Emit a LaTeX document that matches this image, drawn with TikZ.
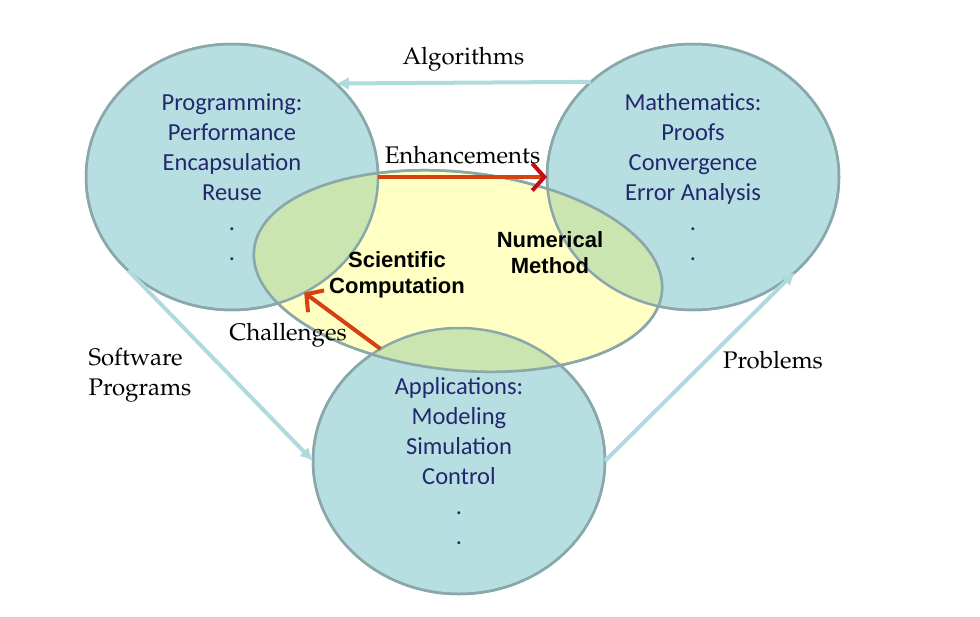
\documentclass[tikz,border=0pt]{standalone}
\usepackage[T1,TU]{fontenc}
\usepackage{fontspec}
\newfontfamily\calibri{Carlito}
\newfontfamily\arial{Liberation Sans}
\newcommand{\pal}{\fontencoding{T1}\fontfamily{ppl}\selectfont}
\usetikzlibrary{shapes.geometric,arrows.meta}
\definecolor{bubblefill}{RGB}{183,223,226}
\definecolor{rimcol}{RGB}{138,168,170}
\definecolor{corefill}{RGB}{255,255,196}
\definecolor{overlapfill}{RGB}{202,229,176}
\definecolor{bodytext}{RGB}{35,40,110}
\definecolor{linkblue}{RGB}{175,218,222}
\definecolor{redlink}{RGB}{212,66,16}
\definecolor{redtip}{RGB}{200,10,20}
\begin{document}
\begin{tikzpicture}[x=1pt,y=-1pt,
    bubble/.style={ellipse, draw=rimcol, line width=2.5pt, fill=bubblefill,
      minimum width=292pt, minimum height=266pt, inner sep=0pt, outer sep=0pt,
      align=center, text=bodytext, font=\calibri\fontsize{24.5}{30}\selectfont},
    rim/.style={draw=rimcol, line width=2.5pt},
    bluelink/.style={draw=linkblue, line width=4pt, -{Latex[length=13pt,width=13pt]}},
    redarrow/.style={draw=redlink, line width=4pt, -{Straight Barb[length=12pt,width=27pt]}},
    linklabel/.style={font=\pal\fontsize{24}{30}\selectfont},
    corelabel/.style={align=center, font=\arial\bfseries\fontsize{22}{26}\selectfont}]
  \useasboundingbox (0,0) rectangle (980,616);
  \node[bubble] (prog) at (232,177) {Programming:\\Performance\\Encapsulation\\Reuse\\.\\.};
  \node[bubble] (math) at (693,177) {Mathematics:\\Proofs\\Convergence\\Error Analysis\\.\\.};
  \node[bubble] (appl) at (459,461) {Applications:\\Modeling\\Simulation\\Control\\.\\.};
  \filldraw[rim, fill=corefill, rotate around={-6:(458,271)}] (458,271) ellipse [x radius=205pt, y radius=99pt];
  \begin{scope}
    \clip[rotate around={-6:(458,271)}] (458,271) ellipse [x radius=205pt, y radius=99pt];
    \foreach \c in {prog,math,appl}
      \fill[overlapfill] (\c.center) ellipse [x radius=146pt, y radius=133pt];
  \end{scope}
  \foreach \c in {prog,math,appl}
    \draw[rim] (\c.center) ellipse [x radius=146pt, y radius=133pt];
  \draw[rim, rotate around={-6:(458,271)}] (458,271) ellipse [x radius=205pt, y radius=99pt];
  \node[corelabel] (sci) at (397,275) {Scientific\\Computation};
  \node[corelabel] (num) at (550,253) {Numerical\\Method};
  \draw[bluelink] (math.137) -- node[midway, above=6pt, linklabel, text=black] (alg) {Algorithms} (prog.42);
  \draw[bluelink] (prog.222) -- (appl.west);
  \draw[bluelink] (appl.east) -- (math.317);
  \draw[redarrow, -{Straight Barb[length=12pt,width=27pt,color=redtip]}] (prog.east) -- node[midway, above=8pt, linklabel] (enh) {Enhancements} (math.west);
  \draw[redarrow] (appl.125) -- (prog.302);
  \node[linklabel] (chal) at (288,335) {Challenges};
  \node[linklabel, align=left, anchor=west] (soft) at (85,375) {Software\\Programs};
  \node[linklabel] (prob) at (773,360) {Problems};
\end{tikzpicture}
\end{document}
